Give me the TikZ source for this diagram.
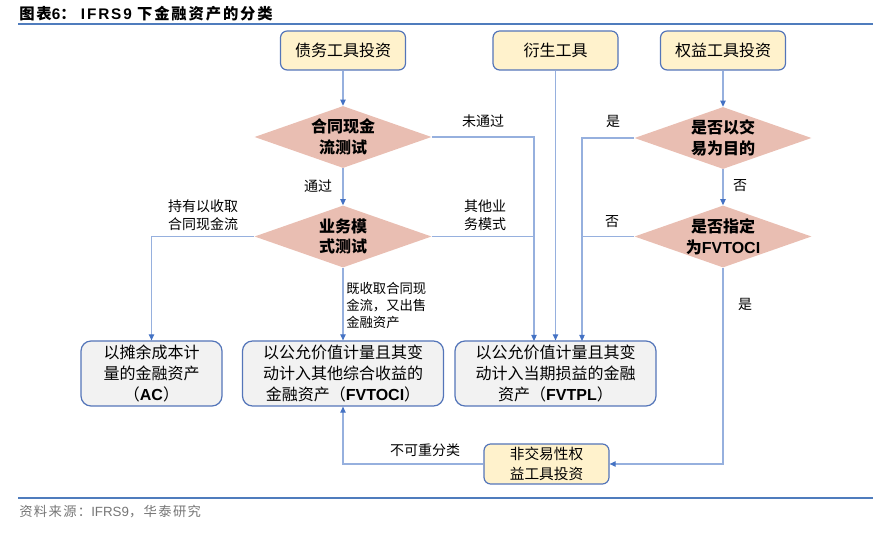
\documentclass[tikz,border=0pt]{standalone}
\usepackage{fontspec}
\setmainfont{Noto Sans CJK SC}
\newfontfamily\latfont{Liberation Sans}
\usetikzlibrary{shapes.geometric,arrows.meta}

\definecolor{rulecol}{RGB}{79,124,189}
\definecolor{edgecol}{RGB}{84,117,185}
\definecolor{flowcol}{RGB}{150,176,222}
\definecolor{tipcol}{RGB}{68,114,196}
\definecolor{startfill}{RGB}{255,242,204}
\definecolor{endfill}{RGB}{242,242,242}
\definecolor{testfill}{RGB}{233,190,178}
\definecolor{srccol}{RGB}{118,118,118}
\newcommand{\lat}[1]{{\latfont\bfseries #1}}

\begin{document}
\begin{tikzpicture}[x=0.75pt,y=0.75pt,yscale=-1,xscale=1,
    startbox/.style={draw=edgecol,fill=startfill,rounded corners=5pt,line width=0.9pt,minimum width=93.75pt,minimum height=29.25pt,inner sep=0pt,align=center,font=\fontsize{12}{15}\selectfont},
    endbox/.style={draw=edgecol,fill=endfill,rounded corners=7.5pt,line width=0.9pt,minimum width=150.75pt,minimum height=48.75pt,inner sep=0pt,align=center,font=\fontsize{12}{15.5}\selectfont},
    testshape/.style={diamond,fill=testfill,minimum width=132.75pt,minimum height=46.5pt,inner sep=0pt},
    testtext/.style={inner sep=0pt,align=center,font=\bfseries\fontsize{12}{15.5}\selectfont},
    flow/.style={draw=flowcol,line width=0.8pt,-{Triangle[length=4.5pt,width=4pt,color=tipcol]}},
    merge/.style={draw=flowcol,line width=0.8pt},
    note/.style={inner sep=0pt,align=center,font=\fontsize{10.5}{13.5}\selectfont}
]
        \useasboundingbox (0,0) rectangle (886,534);

        % Title and rules
        \node[anchor=west,inner sep=0pt,font=\bfseries\fontsize{11.5}{13}\selectfont\addfontfeatures{LetterSpace=12}] (title) at (19,14) {图表{\latfont\addfontfeatures{LetterSpace=12}6}：\ {\latfont\addfontfeatures{LetterSpace=12}IFRS9} 下金融资产的分类};
        \draw[rulecol,line width=1.1pt] (18,24) -- (873,24);
        \draw[rulecol,line width=1.1pt] (18,498) -- (873,498);
        \node[anchor=west,inner sep=0pt,text=srccol,font=\fontsize{10}{12}\selectfont\addfontfeatures{LetterSpace=10}] (source) at (19,512) {资料来源：{\latfont IFRS9}，华泰研究};

        %Shape: Start boxes
        \node[startbox] (debt) at (343,50.5) {债务工具投资};
        \node[startbox] (deriv) at (555.5,50.5) {衍生工具};
        \node[startbox] (equity) at (723,50.5) {权益工具投资};
        \node[startbox,minimum height=30pt,font=\fontsize{11}{14.5}\selectfont] (nontrade) at (546.5,464) {非交易性权\\益工具投资};

        %Shape: Diamonds
        \node[testshape] (dCash) at (343,137) {};
        \node[testtext] at (dCash) {合同现金\\流测试};
        \node[testshape] (dBiz) at (343,236.5) {};
        \node[testtext] at (dBiz) {业务模\\式测试};
        \node[testshape] (dTrade) at (723,138) {};
        \node[testtext] at (dTrade) {是否以交\\易为目的};
        \node[testshape] (dOci) at (723,236.5) {};
        \node[testtext] at (dOci) {是否指定\\为\lat{FVTOCI}};

        %Shape: Result boxes
        \node[endbox,minimum width=105.75pt] (ac) at (151.5,373.5) {以摊余成本计\\量的金融资产\\（\lat{AC}）};
        \node[endbox] (oci) at (343,373.5) {以公允价值计量且其变\\动计入其他综合收益的\\金融资产（\lat{FVTOCI}）};
        \node[endbox] (tpl) at (555.5,373.5) {以公允价值计量且其变\\动计入当期损益的金融\\资产（\lat{FVTPL}）};
        \coordinate (tplFail) at (534,341);
        \coordinate (tplYes) at (582,341);

        %Straight Lines
        \draw[flow] (debt) -- (dCash);
        \draw[flow] (equity) -- (dTrade);
        \draw[flow] (dCash) -- (dBiz);
        \draw[flow] (dTrade) -- (dOci);
        \draw[flow] (dCash.east) -| (tplFail);
        \draw[merge] (dBiz.east) -- (dBiz.east -| tplFail);
        \draw[flow] (deriv) -- (deriv |- tpl.north);
        \draw[flow] (dTrade.west) -| (tplYes);
        \draw[merge] (dOci.west) -- (dOci.west -| tplYes);
        \draw[flow] (dBiz.west) -| (ac.north);
        \draw[flow] (dBiz) -- (oci);
        \draw[flow] (dOci.south) |- (nontrade.east);
        \draw[flow] (nontrade.west) -| (oci.south);

        % Text Node
        \node[note] (lPass) at (318,186) {通过};
        \node[note] (lFail) at (483,121) {未通过};
        \node[note] (lYes1) at (613,121) {是};
        \node[note] (lNo1) at (740,186) {否};
        \node[note] (lHold) at (203,215) {持有以收取\\合同现金流};
        \node[note] (lOther) at (485,215) {其他业\\务模式};
        \node[note] (lNo2) at (612,222) {否};
        \node[note,anchor=west,align=left,font=\fontsize{10}{12.5}\selectfont] (lBoth) at (346,305.5) {既收取合同现\\金流，又出售\\金融资产};
        \node[note] (lYes2) at (745,304) {是};
        \node[note] (lKeep) at (425,450) {不可重分类};

    \end{tikzpicture}
\end{document}
